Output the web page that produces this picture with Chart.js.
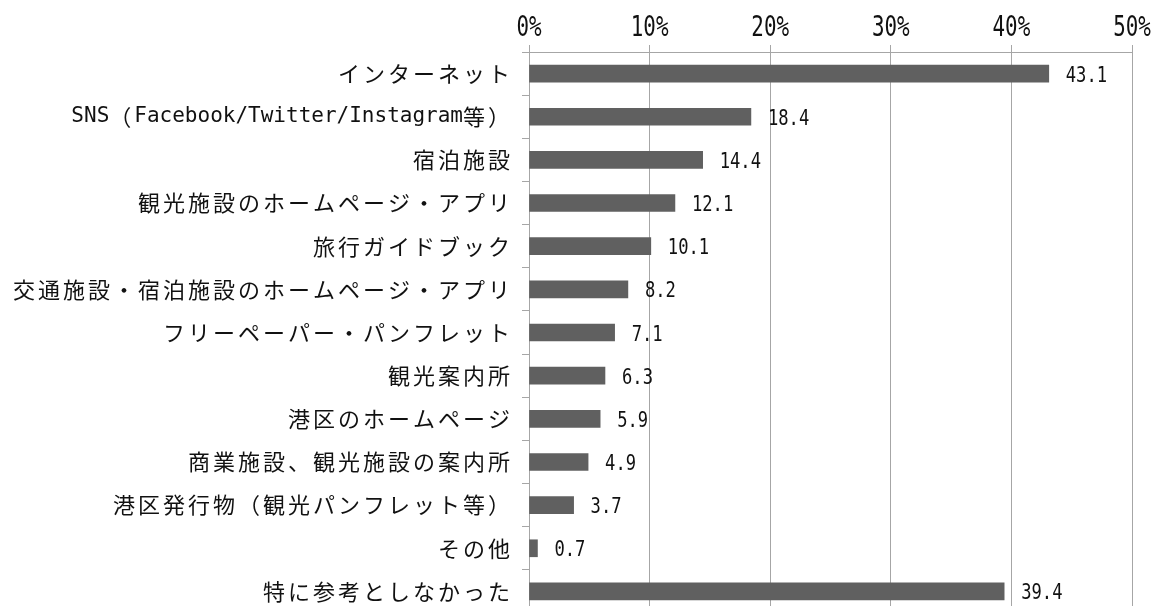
<!DOCTYPE html>
<html>
<head>
<meta charset="utf-8">
<script src="https://cdn.jsdelivr.net/npm/chart.js@4"></script>
<style>
html,body{margin:0;padding:0;background:#fff;overflow:hidden;}
#wrap{width:1158px;height:613px;position:relative;}
</style>
</head>
<body>
<div id="wrap"><canvas id="c" width="1158" height="613"></canvas></div>
<script>
const categories = [
  'インターネット',
  'SNS（Facebook/Twitter/Instagram等）',
  '宿泊施設',
  '観光施設のホームページ・アプリ',
  '旅行ガイドブック',
  '交通施設・宿泊施設のホームページ・アプリ',
  'フリーペーパー・パンフレット',
  '観光案内所',
  '港区のホームページ',
  '商業施設、観光施設の案内所',
  '港区発行物（観光パンフレット等）',
  'その他',
  '特に参考としなかった'
];
const values = [43.1, 18.4, 14.4, 12.1, 10.1, 8.2, 7.1, 6.3, 5.9, 4.9, 3.7, 0.7, 39.4];
const tickValues = [0, 10, 20, 30, 40, 50];
const tickLabels = ['0%', '10%', '20%', '30%', '40%', '50%'];

const MONO = "'DejaVu Sans Mono','Liberation Mono',monospace";
const CJK = "'Noto Sans CJK JP',sans-serif";
const GRID = '#a6a6a6';
const TEXT = '#111';

// Mixed-script label drawing: narrow monospace latin, spaced CJK
function drawMixed(ctx, text, x, y) {
  const fill = CanvasRenderingContext2D.prototype.fillText;
  const runs = text.match(/[\u0000-\u00ff]+|[^\u0000-\u00ff]+/g) || [];
  const latinFont = "21px " + MONO;
  const cjkFont = "22px " + CJK;
  const sp = 3;
  const pieces = [];
  let total = 0;
  runs.forEach(r => {
    const latin = /^[\u0000-\u00ff]+$/.test(r);
    if (latin) {
      ctx.font = latinFont;
      const w = ctx.measureText(r).width;
      pieces.push({ t: r, font: latinFont, w: w, latin: true });
      total += w;
    } else {
      ctx.font = cjkFont;
      for (const ch of r) {
        const w = ctx.measureText(ch).width;
        pieces.push({ t: ch, font: cjkFont, w: w + sp, latin: false });
        total += w + sp;
      }
    }
  });
  if (pieces.length && !pieces[pieces.length - 1].latin) total -= sp;
  const align = ctx.textAlign;
  let cx = align === 'right' || align === 'end' ? x - total : (align === 'center' ? x - total / 2 : x);
  ctx.save();
  ctx.textAlign = 'left';
  pieces.forEach(p => {
    ctx.font = p.font;
    fill.call(ctx, p.t, cx, y);
    cx += p.w;
  });
  ctx.restore();
}

const labelPatch = {
  id: 'labelPatch',
  afterUpdate(chart) {
    const ys = chart.scales.y;
    if (ys && !ys._patched) {
      const orig = ys.drawLabels;
      ys.drawLabels = function (area) {
        const ctx = this.ctx;
        const saved = ctx.fillText;
        ctx.fillText = function (t, x, y) { drawMixed(ctx, String(t), x, y); };
        try { orig.call(this, area); } finally { ctx.fillText = saved; }
      };
      ys._patched = true;
    }
  }
};

const textPlugin = {
  id: 'textPlugin',
  afterDraw(chart) {
    const ctx = chart.ctx;
    const xs = chart.scales.x;
    ctx.save();
    ctx.fillStyle = TEXT;
    // x-axis tick labels (condensed)
    ctx.font = "29px " + MONO;
    ctx.textAlign = 'center';
    ctx.textBaseline = 'alphabetic';
    tickValues.forEach((v, i) => {
      const px = xs.getPixelForValue(v);
      ctx.save();
      ctx.translate(px, 36);
      ctx.scale(0.72, 1);
      ctx.fillText(tickLabels[i], 0, 0);
      ctx.restore();
    });
    // data value labels
    const meta = chart.getDatasetMeta(0);
    ctx.font = "22px " + MONO;
    ctx.textAlign = 'left';
    meta.data.forEach((bar, i) => {
      ctx.save();
      ctx.translate(bar.x + 17, bar.y + 8);
      ctx.scale(0.78, 1);
      ctx.fillText(values[i].toFixed(1), 0, 0);
      ctx.restore();
    });
    ctx.restore();
  }
};

new Chart(document.getElementById('c'), {
  type: 'bar',
  data: {
    labels: categories,
    datasets: [{
      data: values,
      backgroundColor: '#606060',
      borderWidth: 0,
      barThickness: 17
    }]
  },
  options: {
    indexAxis: 'y',
    responsive: false,
    animation: false,
    devicePixelRatio: 1,
    layout: { padding: { left: 0, right: 26, top: 0, bottom: 0 } },
    plugins: { legend: { display: false }, tooltip: { enabled: false } },
    scales: {
      x: {
        position: 'top',
        min: 0,
        max: 50,
        afterBuildTicks(scale) { scale.ticks = tickValues.map(v => ({ value: v })); },
        afterFit(scale) { scale.height = 52; scale.paddingLeft = 0; scale.paddingRight = 0; },
        grid: { color: GRID, lineWidth: 1, tickLength: 7, drawTicks: true, tickColor: GRID },
        border: { color: GRID, width: 1 },
        ticks: { display: false }
      },
      y: {
        afterFit(scale) { scale.width = 529; scale.paddingTop = 0; scale.paddingBottom = 0; },
        grid: { display: true, drawOnChartArea: false, offset: true, tickLength: 7, color: GRID, tickColor: GRID },
        border: { color: GRID, width: 1 },
        ticks: {
          color: TEXT,
          font: { family: CJK, size: 22 },
          padding: 12,
          autoSkip: false
        }
      }
    }
  },
  plugins: [labelPatch, textPlugin]
});
</script>
</body>
</html>
